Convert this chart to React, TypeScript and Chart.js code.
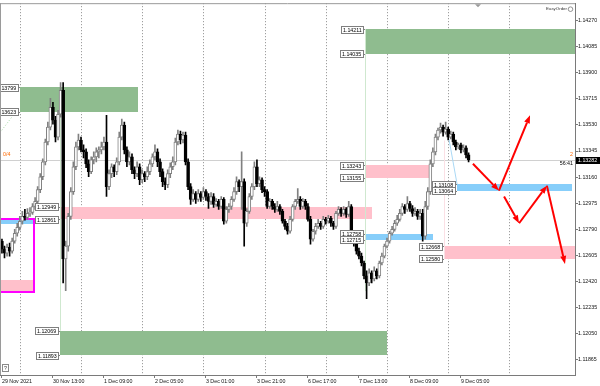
import React, { useEffect, useRef } from "react";
import { Chart, registerables } from "chart.js";

Chart.register(...registerables);

// ---- candle data (EURUSD H1). Hour index counted in trading hours from 30 Nov 00:00 ----
const FIRST_HOUR = -8;

const opens = [
  1.1267, 1.12705, 1.12648, 1.1262, 1.12663, 1.12634, 1.12705, 1.12761,
  1.12803, 1.12846, 1.12881, 1.12874, 1.12902, 1.12909, 1.12951, 1.12987, 1.13071, 1.13162,
  1.13268, 1.13409, 1.13515, 1.13655, 1.13564, 1.13444, 1.13606, 1.13775, 1.12578, 1.1267,
  1.12881, 1.13057, 1.13233, 1.13374, 1.13423, 1.13353, 1.13339, 1.13254, 1.13198, 1.13282,
  1.13303, 1.13339, 1.13353, 1.13374, 1.13409, 1.13092, 1.13184, 1.13233, 1.13198, 1.13268,
  1.13444, 1.13529, 1.13353, 1.13268, 1.13303, 1.13212, 1.13184, 1.13233, 1.13141, 1.13184,
  1.13162, 1.13198, 1.13254, 1.13303, 1.13339, 1.13268, 1.13198, 1.13127, 1.13106, 1.13184,
  1.13233, 1.13268, 1.13409, 1.13465, 1.13423, 1.13458, 1.13268, 1.13092, 1.13001, 1.13043,
  1.13001, 1.13043, 1.13015, 1.13057, 1.13022, 1.12987, 1.13022, 1.12965, 1.12987, 1.12951,
  1.13001, 1.12846, 1.1293, 1.12951, 1.13001, 1.13057, 1.13127, 1.13092, 1.13127, 1.12832,
  1.12916, 1.13022, 1.13092, 1.13233, 1.13113, 1.13141, 1.13071, 1.13057, 1.12951, 1.12987,
  1.12951, 1.1293, 1.12951, 1.12916, 1.12846, 1.1281, 1.12775, 1.1286, 1.12951, 1.12987,
  1.13001, 1.12951, 1.12987, 1.12951, 1.1286, 1.12719, 1.12775, 1.1281, 1.12832, 1.1281,
  1.1286, 1.12846, 1.12867, 1.12832, 1.1281, 1.12902, 1.1293, 1.12902, 1.1293, 1.12895,
  1.12951, 1.1274, 1.12691, 1.12634, 1.12599, 1.1255, 1.12458, 1.12409, 1.1248, 1.12437,
  1.12494, 1.12458, 1.1255, 1.12599, 1.1267, 1.12705, 1.12761, 1.12789, 1.12832, 1.1286,
  1.12902, 1.12951, 1.1293, 1.12972, 1.12937, 1.12902, 1.12916, 1.12881, 1.12902, 1.1274,
  1.12951, 1.13057, 1.13254, 1.13339, 1.13444, 1.13494, 1.13515, 1.13479, 1.13501, 1.13444,
  1.13465, 1.13409, 1.13374, 1.13388, 1.13353, 1.13367, 1.13317,
];

const highs = [
  1.12733, 1.12719, 1.1267, 1.12684, 1.12691, 1.12726, 1.12789, 1.12832,
  1.12881, 1.12916, 1.1293, 1.12937, 1.12944, 1.12972, 1.13015, 1.13092, 1.13184, 1.13289,
  1.1343, 1.1355, 1.13719, 1.13691, 1.13592, 1.13634, 1.13831, 1.13831, 1.12705, 1.12902,
  1.13085, 1.13268, 1.13409, 1.13465, 1.13444, 1.13388, 1.1336, 1.13282, 1.13303, 1.13339,
  1.13367, 1.13374, 1.13409, 1.13444, 1.13599, 1.13212, 1.13254, 1.13247, 1.13296, 1.13479,
  1.13571, 1.1355, 1.13374, 1.13339, 1.13325, 1.13233, 1.13268, 1.13254, 1.13212, 1.13198,
  1.13233, 1.13282, 1.13325, 1.13388, 1.1336, 1.13289, 1.13219, 1.13155, 1.13212, 1.13261,
  1.13303, 1.13437, 1.13494, 1.13487, 1.13479, 1.13479, 1.13289, 1.13113, 1.13071, 1.13057,
  1.13071, 1.13057, 1.13085, 1.13071, 1.13043, 1.1305, 1.13043, 1.13008, 1.13001, 1.13022,
  1.13015, 1.12951, 1.12972, 1.13022, 1.13085, 1.13162, 1.13141, 1.13339, 1.13148, 1.12937,
  1.13043, 1.13113, 1.13268, 1.13282, 1.13162, 1.13155, 1.13092, 1.13071, 1.13008, 1.13001,
  1.12972, 1.12987, 1.12965, 1.1293, 1.1286, 1.12832, 1.12881, 1.12965, 1.13001, 1.13078,
  1.13022, 1.13008, 1.13001, 1.12972, 1.12881, 1.12789, 1.12832, 1.1286, 1.12846, 1.12881,
  1.12874, 1.12888, 1.12881, 1.12846, 1.12916, 1.12951, 1.12944, 1.12951, 1.12944, 1.12987,
  1.12965, 1.12761, 1.12705, 1.12656, 1.1262, 1.12564, 1.12494, 1.12508, 1.12494, 1.12522,
  1.12508, 1.12564, 1.1262, 1.12684, 1.12726, 1.12775, 1.1281, 1.12853, 1.12888, 1.1293,
  1.12972, 1.12965, 1.13022, 1.12987, 1.12958, 1.12944, 1.1293, 1.1293, 1.1293, 1.12987,
  1.13085, 1.13282, 1.13367, 1.13465, 1.13508, 1.13543, 1.13529, 1.1355, 1.13515, 1.13487,
  1.13479, 1.13423, 1.13402, 1.13402, 1.13388, 1.13381, 1.13332,
];

const lows = [
  1.12634, 1.1262, 1.12585, 1.12599, 1.12599, 1.1262, 1.12691, 1.1274,
  1.12782, 1.12825, 1.12853, 1.1286, 1.12881, 1.12895, 1.1293, 1.12965, 1.1305, 1.13141,
  1.13247, 1.13388, 1.13494, 1.13536, 1.13409, 1.13423, 1.13585, 1.12409, 1.12353, 1.12634,
  1.1286, 1.13036, 1.13212, 1.13353, 1.13339, 1.13296, 1.13226, 1.13162, 1.13184, 1.13254,
  1.13268, 1.13296, 1.13325, 1.13353, 1.13022, 1.13071, 1.13155, 1.13162, 1.13177, 1.13247,
  1.13423, 1.13325, 1.13233, 1.13247, 1.13184, 1.13148, 1.13162, 1.13106, 1.1312, 1.13127,
  1.13141, 1.13177, 1.13233, 1.13282, 1.13233, 1.13162, 1.13092, 1.13071, 1.13085, 1.13155,
  1.13212, 1.13247, 1.13388, 1.13395, 1.13402, 1.13247, 1.13071, 1.12965, 1.12987, 1.12972,
  1.12987, 1.12987, 1.13001, 1.12994, 1.12937, 1.12965, 1.12944, 1.12951, 1.1293, 1.12937,
  1.12825, 1.12832, 1.12909, 1.1293, 1.12987, 1.13036, 1.13057, 1.1293, 1.1267, 1.1281,
  1.12902, 1.13001, 1.13071, 1.13092, 1.13092, 1.1305, 1.13022, 1.12937, 1.12937, 1.1293,
  1.12909, 1.12916, 1.12895, 1.12832, 1.12789, 1.12754, 1.12761, 1.12846, 1.1293, 1.12972,
  1.1293, 1.12937, 1.1293, 1.12846, 1.12684, 1.12705, 1.12754, 1.12796, 1.12789, 1.12796,
  1.12825, 1.12832, 1.1281, 1.12789, 1.12796, 1.12888, 1.12881, 1.12888, 1.12874, 1.12881,
  1.12719, 1.1267, 1.12613, 1.12578, 1.12529, 1.12437, 1.12296, 1.12388, 1.12409, 1.12423,
  1.12437, 1.12444, 1.12536, 1.12585, 1.12656, 1.12691, 1.12747, 1.12775, 1.12817, 1.12846,
  1.12888, 1.12902, 1.12916, 1.12916, 1.12881, 1.12888, 1.1286, 1.1286, 1.12705, 1.12719,
  1.1293, 1.13036, 1.13233, 1.13317, 1.13423, 1.13472, 1.13451, 1.13465, 1.13423, 1.1343,
  1.13388, 1.13353, 1.1336, 1.13332, 1.13339, 1.13296, 1.13268,
];

const closes = [
  1.12705, 1.12648, 1.1262, 1.12663, 1.12634, 1.12705, 1.12761, 1.12803,
  1.12846, 1.12881, 1.12874, 1.12902, 1.12909, 1.12951, 1.12987, 1.13071, 1.13162, 1.13268,
  1.13409, 1.13515, 1.13655, 1.13564, 1.13444, 1.13606, 1.13775, 1.12578, 1.1267, 1.12881,
  1.13057, 1.13233, 1.13374, 1.13423, 1.13353, 1.13339, 1.13254, 1.13198, 1.13282, 1.13303,
  1.13339, 1.13353, 1.13374, 1.13409, 1.13092, 1.13184, 1.13233, 1.13198, 1.13268, 1.13444,
  1.13529, 1.13353, 1.13268, 1.13303, 1.13212, 1.13184, 1.13233, 1.13141, 1.13184, 1.13162,
  1.13198, 1.13254, 1.13303, 1.13339, 1.13268, 1.13198, 1.13127, 1.13106, 1.13184, 1.13233,
  1.13268, 1.13409, 1.13465, 1.13423, 1.13458, 1.13268, 1.13092, 1.13001, 1.13043, 1.13001,
  1.13043, 1.13015, 1.13057, 1.13022, 1.12987, 1.13022, 1.12965, 1.12987, 1.12951, 1.13001,
  1.12846, 1.1293, 1.12951, 1.13001, 1.13057, 1.13127, 1.13092, 1.13127, 1.12832, 1.12916,
  1.13022, 1.13092, 1.13233, 1.13113, 1.13141, 1.13071, 1.13057, 1.12951, 1.12987, 1.12951,
  1.1293, 1.12951, 1.12916, 1.12846, 1.1281, 1.12775, 1.1286, 1.12951, 1.12987, 1.13001,
  1.12951, 1.12987, 1.12951, 1.1286, 1.12719, 1.12775, 1.1281, 1.12832, 1.1281, 1.1286,
  1.12846, 1.12867, 1.12832, 1.1281, 1.12902, 1.1293, 1.12902, 1.1293, 1.12895, 1.12951,
  1.1274, 1.12691, 1.12634, 1.12599, 1.1255, 1.12458, 1.12409, 1.1248, 1.12437, 1.12494,
  1.12458, 1.1255, 1.12599, 1.1267, 1.12705, 1.12761, 1.12789, 1.12832, 1.1286, 1.12902,
  1.12951, 1.1293, 1.12972, 1.12937, 1.12902, 1.12916, 1.12881, 1.12902, 1.1274, 1.12951,
  1.13057, 1.13254, 1.13339, 1.13444, 1.13494, 1.13515, 1.13479, 1.13501, 1.13444, 1.13465,
  1.13409, 1.13374, 1.13388, 1.13353, 1.13367, 1.13317, 1.13282,
];

// ---- axes ----
const xTickHours = [-7, 13, 33, 53, 73, 93, 113, 133, 153, 173];
const xTickLabels = [
  "29 Nov 2021", "30 Nov 13:00", "1 Dec 09:00", "2 Dec 05:00", "3 Dec 01:00",
  "3 Dec 21:00", "6 Dec 17:00", "7 Dec 13:00", "8 Dec 09:00", "9 Dec 05:00",
];
const daySeparatorHours = [0, 24, 48, 72, 96, 120, 144, 168, 192];
const priceTicks = [
  1.11865, 1.1205, 1.12235, 1.1242, 1.12605, 1.1279, 1.12975,
  1.1316, 1.13345, 1.1353, 1.13715, 1.139, 1.14085, 1.1427,
];
const X_MIN = -7.765;
const X_MAX = 217.73;
const Y_MIN = 1.117545;
const Y_MAX = 1.143946;
const currentPrice = 1.13282;

// ---- supply / demand zones ----
const zoneKind = ["green", "blue", "pink", "pink", "green", "green", "pink", "blue", "blue", "pink"];
const zoneFrom = [0, -10, -10, 15.8, 15.8, 135.4, 135.4, 135.4, 171.5, 166.4];
const zoneTo = [46.5, 5.6, 5.6, 138.1, 144, 230, 161.3, 162, 216.5, 230];
const zoneHigh = [1.13799, 1.12861, 1.1243, 1.12949, 1.12069, 1.14211, 1.13243, 1.12758, 1.13108, 1.12668];
const zoneLow = [1.13623, 1.12826, 1.12353, 1.12861, 1.11893, 1.14035, 1.13155, 1.12715, 1.13064, 1.1258];
const zoneTagged = [true, false, false, true, true, true, true, true, true, true];

// magenta frame (hour from/to, price top/bottom)
const frameBox = [-10, 5.6, 1.12861, 1.12346];

// thin objects: [hour1, price1, hour2, price2]
const thinLineKind = ["dotGreen", "lightBlue", "green", "green", "pink"];
const thinLinePts = [
  [-8.5, 1.13458, -1.1, 1.13634],
  [168.3, 1.1343, 171.5, 1.13108],
  [15.8, 1.13799, 15.8, 1.12069],
  [135.4, 1.14211, 135.4, 1.1235],
  [166.4, 1.1342, 166.4, 1.1258],
];

// forecast arrows (hour, price)
const arrowFrom = [
  [177.7, 1.13254], [187.9, 1.13064], [189.9, 1.13022], [195.8, 1.12832], [206.7, 1.13099],
];
const arrowTo = [
  [187.9, 1.13064], [200.1, 1.13599], [195.8, 1.12832], [206.7, 1.13099], [213.8, 1.12543],
];

const FONT = '"Liberation Sans", Arial, sans-serif';
const FS = 5.3;
const ZONE_FILL: Record<string, string> = { green: "#8fbc8f", pink: "#ffc0cb", blue: "#87cefa" };
const LINE_STYLE: Record<string, [string, number[]]> = {
  dotGreen: ["#9fd49f", [1, 2]],
  lightBlue: ["#a9d8f5", []],
  green: ["#cfe8cf", []],
  pink: ["#fbe0e5", []],
};

function priceTag(ctx: CanvasRenderingContext2D, text: string, rightX: number, cy: number) {
  ctx.font = `${FS}px ${FONT}`;
  const w = Math.ceil(ctx.measureText(text).width) + 3;
  const h = 7;
  const left = Math.round(rightX - w) + 0.5;
  const top = Math.round(cy - h / 2) + 0.5;
  ctx.fillStyle = "#ffffff";
  ctx.fillRect(left, top, w, h);
  ctx.strokeStyle = "#7f7f7f";
  ctx.lineWidth = 1;
  ctx.setLineDash([]);
  ctx.strokeRect(left, top, w, h);
  ctx.beginPath();
  ctx.moveTo(left + w, Math.round(cy) + 0.5);
  ctx.lineTo(rightX + 2, Math.round(cy) + 0.5);
  ctx.stroke();
  ctx.fillStyle = "#000000";
  ctx.textAlign = "left";
  ctx.textBaseline = "middle";
  ctx.fillText(text, left + 1.5, top + h / 2 + 0.5);
}

function arrow(ctx: CanvasRenderingContext2D, x1: number, y1: number, x2: number, y2: number) {
  const ang = Math.atan2(y2 - y1, x2 - x1);
  const len = 8;
  const bx = x2 - Math.cos(ang) * len;
  const by = y2 - Math.sin(ang) * len;
  ctx.strokeStyle = "#ff0000";
  ctx.fillStyle = "#ff0000";
  ctx.lineWidth = 2;
  ctx.setLineDash([]);
  ctx.beginPath();
  ctx.moveTo(x1, y1);
  ctx.lineTo(bx, by);
  ctx.stroke();
  ctx.beginPath();
  ctx.moveTo(x2, y2);
  ctx.lineTo(bx + Math.sin(ang) * 3, by - Math.cos(ang) * 3);
  ctx.lineTo(bx - Math.sin(ang) * 3, by + Math.cos(ang) * 3);
  ctx.closePath();
  ctx.fill();
}

const overlay = {
  id: "mtOverlay",
  beforeDatasetsDraw(chart: any) {
    const { ctx, chartArea: a } = chart;
    const xs = chart.scales.x;
    const ys = chart.scales.y;
    ctx.save();
    ctx.beginPath();
    ctx.rect(a.left, a.top, a.right - a.left, a.bottom - a.top);
    ctx.clip();

    // day separators
    ctx.strokeStyle = "#8c8c8c";
    ctx.lineWidth = 1;
    ctx.setLineDash([1, 2]);
    daySeparatorHours.forEach((hr) => {
      const px = Math.round(xs.getPixelForValue(hr)) + 0.5;
      ctx.beginPath();
      ctx.moveTo(px, a.top);
      ctx.lineTo(px, a.bottom);
      ctx.stroke();
    });
    ctx.setLineDash([]);

    // current price line
    const cp = Math.round(ys.getPixelForValue(currentPrice)) + 0.5;
    ctx.strokeStyle = "#d0d0d0";
    ctx.beginPath();
    ctx.moveTo(a.left, cp);
    ctx.lineTo(a.right, cp);
    ctx.stroke();

    // zones
    zoneKind.forEach((k, i) => {
      const x1 = Math.round(xs.getPixelForValue(zoneFrom[i]));
      const x2 = Math.round(xs.getPixelForValue(zoneTo[i]));
      const y1 = Math.round(ys.getPixelForValue(zoneHigh[i]));
      const y2 = Math.round(ys.getPixelForValue(zoneLow[i]));
      ctx.fillStyle = ZONE_FILL[k];
      ctx.fillRect(x1, y1, x2 - x1, y2 - y1);
    });

    // thin lines
    thinLineKind.forEach((k, i) => {
      const [h1, p1, h2, p2] = thinLinePts[i];
      const [col, dash] = LINE_STYLE[k];
      ctx.strokeStyle = col;
      ctx.lineWidth = 1;
      ctx.setLineDash(dash);
      ctx.beginPath();
      const vx = h1 === h2;
      const x1 = vx ? Math.round(xs.getPixelForValue(h1)) + 0.5 : xs.getPixelForValue(h1);
      const x2 = vx ? x1 : xs.getPixelForValue(h2);
      ctx.moveTo(x1, ys.getPixelForValue(p1));
      ctx.lineTo(x2, ys.getPixelForValue(p2));
      ctx.stroke();
    });
    ctx.setLineDash([]);

    // magenta frame
    {
      const [h1, h2, pT, pB] = frameBox;
      const x1 = Math.round(xs.getPixelForValue(h1));
      const x2 = Math.round(xs.getPixelForValue(h2));
      const y1 = Math.round(ys.getPixelForValue(pT));
      const y2 = Math.round(ys.getPixelForValue(pB));
      ctx.strokeStyle = "#ff00ff";
      ctx.lineWidth = 2;
      ctx.strokeRect(x1, y1, x2 - x1, y2 - y1);
    }
    ctx.restore();
  },
  afterDatasetsDraw(chart: any) {
    const { ctx, chartArea: a } = chart;
    const xs = chart.scales.x;
    const ys = chart.scales.y;
    ctx.save();
    ctx.beginPath();
    ctx.rect(a.left, a.top, a.right - a.left, a.bottom - a.top);
    ctx.clip();

    zoneKind.forEach((_, i) => {
      if (!zoneTagged[i]) return;
      const x1 = Math.round(xs.getPixelForValue(zoneFrom[i])) - 2;
      priceTag(ctx, zoneHigh[i].toFixed(5), x1, ys.getPixelForValue(zoneHigh[i]));
      priceTag(ctx, zoneLow[i].toFixed(5), x1, ys.getPixelForValue(zoneLow[i]));
    });

    arrowFrom.forEach((f, i) => {
      const t = arrowTo[i];
      arrow(
        ctx,
        xs.getPixelForValue(f[0]), ys.getPixelForValue(f[1]),
        xs.getPixelForValue(t[0]), ys.getPixelForValue(t[1])
      );
    });

    const cp = ys.getPixelForValue(currentPrice);
    ctx.font = `${FS}px ${FONT}`;
    ctx.textBaseline = "middle";
    ctx.fillStyle = "#ff6a00";
    ctx.textAlign = "left";
    ctx.fillText("0/4", a.left + 3, cp - 5);
    ctx.textAlign = "right";
    ctx.fillText("2", a.right - 2, cp - 5);
    ctx.fillStyle = "#000000";
    ctx.fillText("56:41", a.right - 2, cp + 4);

    ctx.font = `4.4px ${FONT}`;
    ctx.fillStyle = "#333333";
    ctx.fillText("EasyOrder", a.right - 8, a.top + 6);
    ctx.strokeStyle = "#777777";
    ctx.lineWidth = 0.8;
    ctx.beginPath();
    ctx.arc(a.right - 4.5, a.top + 6, 2.3, 0, Math.PI * 2);
    ctx.stroke();
    ctx.restore();
  },
  afterDraw(chart: any) {
    const { ctx, chartArea: a } = chart;
    const ys = chart.scales.y;
    ctx.save();
    // frame top / left
    ctx.strokeStyle = "#9a9a9a";
    ctx.lineWidth = 1;
    ctx.beginPath();
    ctx.moveTo(a.left, a.top + 0.5);
    ctx.lineTo(a.right, a.top + 0.5);
    ctx.moveTo(a.left + 0.5, a.top);
    ctx.lineTo(a.left + 0.5, a.bottom);
    ctx.stroke();
    ctx.fillStyle = "#9a9a9a";
    ctx.beginPath();
    ctx.moveTo(475, a.top + 1);
    ctx.lineTo(481, a.top + 1);
    ctx.lineTo(478, a.top + 4);
    ctx.closePath();
    ctx.fill();

    // help box
    ctx.strokeStyle = "#8a8a8a";
    ctx.strokeRect(a.left + 2.5, a.bottom - 10.5, 6, 7);
    ctx.font = `${FS}px ${FONT}`;
    ctx.fillStyle = "#333";
    ctx.textAlign = "center";
    ctx.textBaseline = "middle";
    ctx.fillText("?", a.left + 5.5, a.bottom - 6.5);

    // current price marker on axis
    const cp = Math.round(ys.getPixelForValue(currentPrice));
    ctx.fillStyle = "#000000";
    ctx.fillRect(a.right + 1, cp - 3, 25, 7);
    ctx.fillStyle = "#ffffff";
    ctx.textAlign = "left";
    ctx.fillText(currentPrice.toFixed(5), a.right + 3, cp + 0.5);
    ctx.restore();
  },
};

export default function App() {
  const ref = useRef<HTMLCanvasElement>(null);

  useEffect(() => {
    document.body.style.margin = "0";
    const canvas = ref.current;
    if (!canvas) return;

    const hours = opens.map((_, i) => FIRST_HOUR + i);
    const up = closes.map((c, i) => c >= opens[i]);
    const wickData = hours.map((h, i) => ({ x: h, y: [lows[i], highs[i]] }));
    const bodyData = hours.map((h, i) => ({ x: h, y: [opens[i], closes[i]] }));

    const chart = new Chart(canvas, {
      type: "bar",
      data: {
        datasets: [
          {
            label: "body",
            data: bodyData as any,
            order: 0,
            grouped: false,
            barThickness: 3,
            borderWidth: 1,
            borderSkipped: false,
            backgroundColor: up.map((u) => (u ? "#ffffff" : "#000000")),
            borderColor: up.map((u) => (u ? "#808080" : "#000000")),
          } as any,
          {
            label: "wick",
            data: wickData as any,
            order: 1,
            grouped: false,
            barThickness: 1,
            borderWidth: 0,
            backgroundColor: up.map((u) => (u ? "#808080" : "#000000")),
          } as any,
        ],
      },
      options: {
        animation: false,
        responsive: false,
        maintainAspectRatio: false,
        devicePixelRatio: 1,
        layout: { padding: 0 },
        events: [],
        plugins: { legend: { display: false }, tooltip: { enabled: false } },
        scales: {
          x: {
            type: "linear",
            min: X_MIN,
            max: X_MAX,
            offset: false,
            afterBuildTicks: (s: any) => {
              s.ticks = xTickHours.map((v) => ({ value: v }));
            },
            afterFit: (s: any) => {
              s.height = 11;
            },
            grid: { drawOnChartArea: false, drawTicks: true, tickLength: 3, color: "#7a7a7a", offset: false },
            border: { display: true, color: "#7a7a7a" },
            ticks: {
              autoSkip: false,
              maxRotation: 0,
              minRotation: 0,
              align: "start",
              padding: 0,
              color: "#111111",
              font: { family: FONT, size: FS },
              callback: (_v: any, i: number) => xTickLabels[i],
            },
          },
          y: {
            type: "linear",
            position: "right",
            min: Y_MIN,
            max: Y_MAX,
            afterBuildTicks: (s: any) => {
              s.ticks = priceTicks.map((v) => ({ value: v }));
            },
            afterFit: (s: any) => {
              s.width = 25;
            },
            grid: { drawOnChartArea: false, drawTicks: true, tickLength: 3, color: "#7a7a7a" },
            border: { display: true, color: "#7a7a7a" },
            ticks: {
              padding: 0,
              color: "#111111",
              font: { family: FONT, size: FS },
              callback: (v: any) => Number(v).toFixed(5),
            },
          },
        },
      } as any,
      plugins: [overlay],
    });

    return () => chart.destroy();
  }, []);

  return (
    <div style={{ position: "fixed", left: 0, top: 0, width: 600, height: 386, background: "#ffffff" }}>
      <canvas ref={ref} width={600} height={386} style={{ display: "block", width: 600, height: 386 }} />
    </div>
  );
}
